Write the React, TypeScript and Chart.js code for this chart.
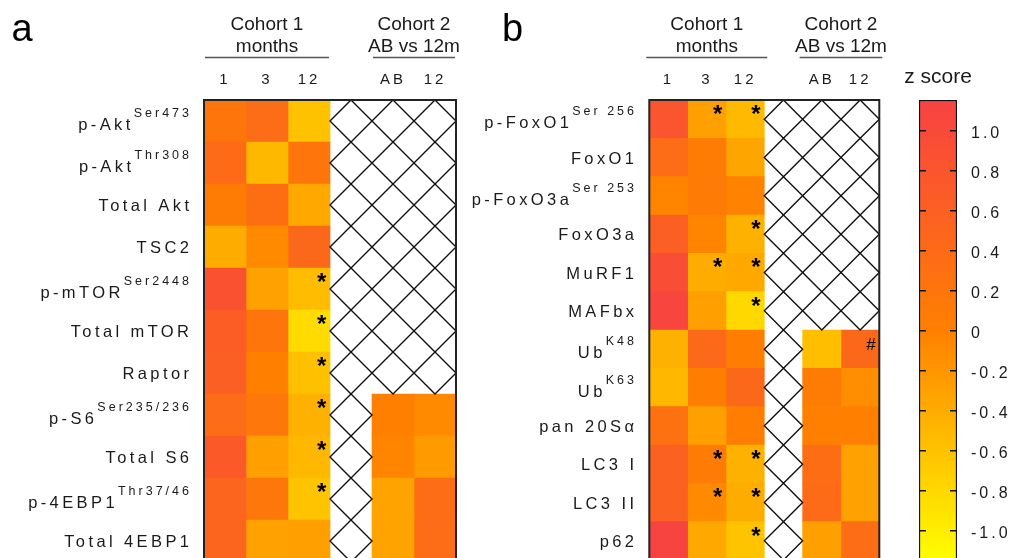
import { useEffect, useRef } from 'react';
import { Chart, registerables } from 'chart.js';

Chart.register(...registerables);

const FONT = '"Liberation Sans", Arial, Helvetica, sans-serif';

// ---------- z-score colour scale ----------
const zStops = [-1.155, 0, 1.155];
const zStopColors = [
  [255, 255, 0],
  [255, 128, 0],
  [248, 66, 66],
];
const zTickValues = [1.0, 0.8, 0.6, 0.4, 0.2, 0, -0.2, -0.4, -0.6, -0.8, -1.0];
const zTickLabels = ['1.0', '0.8', '0.6', '0.4', '0.2', '0', '-0.2', '-0.4', '-0.6', '-0.8', '-1.0'];

// ---------- panel a: Akt / mTOR signalling ----------
const aktRows = ['p-Akt', 'p-Akt', 'Total Akt', 'TSC2', 'p-mTOR', 'Total mTOR', 'Raptor', 'p-S6', 'Total S6', 'p-4EBP1', 'Total 4EBP1'];
const aktSups = ['Ser473', 'Thr308', '', '', 'Ser2448', '', '', 'Ser235/236', '', 'Thr37/46', ''];
const aktC1m1 = [0.2, 0.4, 0.07, -0.4, 0.85, 0.65, 0.62, 0.38, 0.7, 0.5, 0.5];
const aktC1m3 = [0.38, -0.51, 0.33, -0.09, -0.3, 0.2, 0.0, 0.17, -0.29, 0.17, -0.3];
const aktC1m12 = [-0.6, 0.2, -0.36, 0.44, -0.55, -0.83, -0.58, -0.45, -0.5, -0.62, -0.28];
const aktGap = [null, null, null, null, null, null, null, null, null, null, null];
const aktC2AB = [null, null, null, null, null, null, null, 0.0, -0.04, -0.32, -0.32];
const aktC2m12 = [null, null, null, null, null, null, null, -0.09, -0.25, 0.36, 0.38];
const aktSigM12 = [0, 0, 0, 0, 1, 1, 1, 1, 1, 1, 0];

// ---------- panel b: FoxO / proteolysis ----------
const foxRows = ['p-FoxO1', 'FoxO1', 'p-FoxO3a', 'FoxO3a', 'MuRF1', 'MAFbx', 'Ub', 'Ub', 'pan 20Sα', 'LC3 I', 'LC3 II', 'p62'];
const foxSups = ['Ser 256', '', 'Ser 253', '', '', '', 'K48', 'K63', '', '', '', ''];
const foxC1m1 = [0.8, 0.38, -0.05, 0.62, 0.95, 1.08, -0.45, -0.5, 0.28, 0.58, 0.58, 1.12];
const foxC1m3 = [-0.28, 0.07, 0.1, -0.05, -0.4, -0.28, 0.42, 0.03, -0.28, 0.1, -0.09, -0.36];
const foxC1m12 = [-0.53, -0.34, -0.03, -0.45, -0.36, -0.8, 0.03, 0.45, 0.03, -0.45, -0.4, -0.62];
const foxGap = [null, null, null, null, null, null, null, null, null, null, null, null];
const foxC2AB = [null, null, null, null, null, null, -0.57, 0.07, 0.0, 0.35, 0.4, -0.28];
const foxC2m12 = [null, null, null, null, null, null, 0.45, -0.14, 0.0, -0.3, -0.3, 0.36];
const foxSigM3 = [1, 0, 0, 0, 1, 0, 0, 0, 0, 1, 1, 0];
const foxSigM12 = [1, 0, 0, 1, 1, 1, 0, 0, 0, 1, 1, 1];
const foxHashC2m12 = [0, 0, 0, 0, 0, 0, 1, 0, 0, 0, 0, 0];

// ---------- shared column headings ----------
const colLabels = ['1', '3', '12', '', 'AB', '12'];
const cohortHeads = [
  ['Cohort 1', 'months'],
  ['Cohort 2', 'AB vs 12m'],
];
const cohortSpans = [
  [0, 3],
  [4, 6],
];

type Mark = { col: number; flags: number[]; sym: string };
type PanelSpec = {
  letter: string;
  rows: string[];
  sups: string[];
  columns: (number | null)[][];
  marks: Mark[];
};
type PanelLayout = {
  x: number;
  w: number;
  h: number;
  pad: { left: number; right: number; top: number; bottom: number };
  labelRight: number;
  letterX: number;
  ruleExtend: number;
};

const panelA: PanelSpec = {
  letter: 'a',
  rows: aktRows,
  sups: aktSups,
  columns: [aktC1m1, aktC1m3, aktC1m12, aktGap, aktC2AB, aktC2m12],
  marks: [{ col: 2, flags: aktSigM12, sym: '*' }],
};

const panelB: PanelSpec = {
  letter: 'b',
  rows: foxRows,
  sups: foxSups,
  columns: [foxC1m1, foxC1m3, foxC1m12, foxGap, foxC2AB, foxC2m12],
  marks: [
    { col: 1, flags: foxSigM3, sym: '*' },
    { col: 2, flags: foxSigM12, sym: '*' },
    { col: 5, flags: foxHashC2m12, sym: '#' },
  ],
};

const layoutA: PanelLayout = {
  x: 0, w: 470, h: 600,
  pad: { left: 204, right: 14, top: 100, bottom: 38 },
  labelRight: 189, letterX: 11.5, ruleExtend: -1,
};
const layoutB: PanelLayout = {
  x: 460, w: 440, h: 600,
  pad: { left: 189.3, right: 20.7, top: 100, bottom: 40 },
  labelRight: 174, letterX: 42, ruleExtend: 3,
};

function zRgb(v: number): number[] {
  const c = Math.max(zStops[0], Math.min(zStops[zStops.length - 1], v));
  let i = 0;
  while (i < zStops.length - 2 && c > zStops[i + 1]) i++;
  const t = (c - zStops[i]) / (zStops[i + 1] - zStops[i]);
  const a = zStopColors[i];
  const b = zStopColors[i + 1];
  return a.map((ai, k) => Math.round(ai + (b[k] - ai) * t));
}
function zColor(v: number): string {
  const m = zRgb(v);
  return `rgb(${m[0]},${m[1]},${m[2]})`;
}

function drawGlyphCentered(ctx: any, s: string, cx: number, cy: number) {
  ctx.textAlign = 'left';
  ctx.textBaseline = 'alphabetic';
  const m = ctx.measureText(s);
  const x = cx - (m.actualBoundingBoxRight - m.actualBoundingBoxLeft) / 2;
  const y = cy + (m.actualBoundingBoxAscent - m.actualBoundingBoxDescent) / 2;
  ctx.fillText(s, x, y);
}

function drawRowLabel(ctx: any, main: string, sup: string, right: number, cy: number) {
  const mainLs = 3.4;
  const supLs = 3;
  ctx.textAlign = 'left';
  ctx.textBaseline = 'alphabetic';
  ctx.font = `16.5px ${FONT}`;
  ctx.letterSpacing = `${mainLs}px`;
  const mw = ctx.measureText(main).width;
  let sw = 0;
  if (sup) {
    ctx.font = `12.5px ${FONT}`;
    ctx.letterSpacing = `${supLs}px`;
    sw = ctx.measureText(sup).width;
  }
  const visible = mw + sw - (sup ? supLs : mainLs);
  const start = right - visible;
  ctx.font = `16.5px ${FONT}`;
  ctx.letterSpacing = `${mainLs}px`;
  ctx.fillText(main, start, sup ? cy + 9 : cy + 6);
  if (sup) {
    ctx.font = `12.5px ${FONT}`;
    ctx.letterSpacing = `${supLs}px`;
    ctx.fillText(sup, start + mw, cy - 4);
  }
}

function hatchSpans(columns: (number | null)[][], nRows: number) {
  const spans: (number[] | null)[] = [];
  for (let r = 0; r < nRows; r++) {
    const missing = columns.map((col, c) => (col[r] == null ? c : -1)).filter((c) => c >= 0);
    spans.push(missing.length ? [Math.min(...missing), Math.max(...missing) + 1] : null);
  }
  return spans;
}

function makePanelConfig(spec: PanelSpec, lay: PanelLayout): any {
  const nRows = spec.rows.length;
  const nCols = spec.columns.length;
  const datasets: any[] = spec.columns.map((vals, c) => ({
    label: colLabels[c] || 'gap',
    data: vals.map((v) => (v == null ? null : [c, c + 1])),
    backgroundColor: vals.map((v) => (v == null ? 'rgba(0,0,0,0)' : zColor(v))),
    borderWidth: 0,
    grouped: false,
    barPercentage: 1,
    categoryPercentage: 1,
  }));
  const hatchIndex = datasets.length;
  datasets.push({
    label: 'not measured',
    data: hatchSpans(spec.columns, nRows),
    backgroundColor: '#ffffff',
    borderWidth: 0,
    grouped: false,
    barPercentage: 1,
    categoryPercentage: 1,
  });

  const decor = {
    id: 'panelDecor',
    afterDraw(chart: any) {
      const ctx = chart.ctx;
      const area = chart.chartArea;
      const xs = chart.scales.x;
      const ys = chart.scales.y;
      ctx.save();

      // diamond hatching for cells without data
      ctx.strokeStyle = '#111';
      ctx.lineWidth = 1.4;
      const hMeta = chart.getDatasetMeta(hatchIndex);
      const hData = chart.data.datasets[hatchIndex].data;
      hMeta.data.forEach((el: any, r: number) => {
        const span = hData[r];
        if (!span) return;
        const p = el.getProps(['y', 'height'], true);
        const top = p.y - p.height / 2;
        const bot = p.y + p.height / 2;
        for (let c = span[0]; c < span[1]; c++) {
          const l = xs.getPixelForValue(c);
          const rr = xs.getPixelForValue(c + 1);
          const mx = (l + rr) / 2;
          ctx.beginPath();
          ctx.moveTo(mx, top);
          ctx.lineTo(rr, p.y);
          ctx.lineTo(mx, bot);
          ctx.lineTo(l, p.y);
          ctx.closePath();
          ctx.stroke();
        }
      });

      // outer frame
      ctx.strokeStyle = '#222';
      ctx.lineWidth = 2;
      ctx.strokeRect(area.left, area.top, area.right - area.left, area.bottom - area.top);

      // significance marks
      ctx.fillStyle = '#000';
      ctx.letterSpacing = '0px';
      spec.marks.forEach((mk) => {
        const meta = chart.getDatasetMeta(mk.col);
        mk.flags.forEach((f, r) => {
          if (!f) return;
          const el = meta.data[r];
          if (!el) return;
          const p = el.getProps(['x', 'base', 'y', 'height'], true);
          const right = Math.max(p.x, p.base);
          const top = p.y - p.height / 2;
          if (mk.sym === '*') {
            ctx.font = `bold 24px ${FONT}`;
            drawGlyphCentered(ctx, '*', right - 8, top + 9.5);
          } else {
            ctx.font = `17px ${FONT}`;
            drawGlyphCentered(ctx, mk.sym, right - 8, top + 13.5);
          }
        });
      });

      // row labels
      ctx.fillStyle = '#1a1a1a';
      spec.rows.forEach((name, r) => {
        drawRowLabel(ctx, name, spec.sups[r], lay.labelRight, ys.getPixelForValue(r));
      });

      // column labels
      ctx.font = `15px ${FONT}`;
      ctx.letterSpacing = '3px';
      ctx.textAlign = 'center';
      ctx.textBaseline = 'alphabetic';
      for (let c = 0; c < nCols; c++) {
        if (!colLabels[c]) continue;
        ctx.fillText(colLabels[c], xs.getPixelForValue(c + 0.5), 83.5);
      }

      // cohort headings with rules
      ctx.font = `19px ${FONT}`;
      ctx.letterSpacing = '0px';
      cohortHeads.forEach((lines, i) => {
        const l = xs.getPixelForValue(cohortSpans[i][0]);
        const rr = xs.getPixelForValue(cohortSpans[i][1]);
        const cx = (l + rr) / 2;
        ctx.fillText(lines[0], cx, 30);
        ctx.fillText(lines[1], cx, 52);
        ctx.strokeStyle = '#555';
        ctx.lineWidth = 1.3;
        ctx.beginPath();
        ctx.moveTo(l - lay.ruleExtend, 57.5);
        ctx.lineTo(rr + lay.ruleExtend, 57.5);
        ctx.stroke();
      });

      // panel letter
      ctx.fillStyle = '#000';
      ctx.font = `38px ${FONT}`;
      ctx.textAlign = 'left';
      ctx.fillText(spec.letter, lay.letterX, 40.5);

      ctx.restore();
    },
  };

  return {
    type: 'bar',
    data: {
      labels: spec.rows.map((r, i) => (spec.sups[i] ? `${r} ${spec.sups[i]}` : r)),
      datasets,
    },
    options: {
      indexAxis: 'y',
      responsive: false,
      animation: false,
      events: [],
      layout: { padding: lay.pad },
      plugins: { legend: { display: false }, tooltip: { enabled: false }, title: { display: false } },
      scales: {
        x: { type: 'linear', min: 0, max: nCols, display: false },
        y: { type: 'category', display: false, offset: true },
      },
    },
    plugins: [decor],
  };
}

function HeatPanel({ spec, lay }: { spec: PanelSpec; lay: PanelLayout }) {
  const ref = useRef<HTMLCanvasElement>(null);
  useEffect(() => {
    const chart = new Chart(ref.current as HTMLCanvasElement, makePanelConfig(spec, lay));
    return () => chart.destroy();
  }, [spec, lay]);
  return (
    <canvas
      ref={ref}
      width={lay.w}
      height={lay.h}
      style={{ position: 'absolute', left: lay.x, top: 0, width: lay.w, height: lay.h }}
    />
  );
}

function ZScoreBar() {
  const ref = useRef<HTMLCanvasElement>(null);
  useEffect(() => {
    const zMin = zStops[0];
    const zMax = zStops[zStops.length - 1];
    const chart = new Chart(ref.current as HTMLCanvasElement, {
      type: 'bar',
      data: {
        labels: ['z score'],
        datasets: [
          {
            data: [[zMin, zMax]],
            backgroundColor: (c: any) => {
              const ch = c.chart;
              const ys = ch.scales.y;
              if (!ys || !ch.chartArea) return zColor(0);
              const g = ch.ctx.createLinearGradient(0, ys.getPixelForValue(zMin), 0, ys.getPixelForValue(zMax));
              const n = 24;
              for (let i = 0; i <= n; i++) {
                g.addColorStop(i / n, zColor(zMin + ((zMax - zMin) * i) / n));
              }
              return g;
            },
            borderColor: '#111',
            borderWidth: 1.5,
            borderSkipped: false,
            barPercentage: 1,
            categoryPercentage: 1,
          } as any,
        ],
      },
      options: {
        responsive: false,
        animation: false,
        events: [],
        layout: { padding: { left: 19, right: 0, top: 100, bottom: 38 } },
        plugins: { legend: { display: false }, tooltip: { enabled: false } },
        scales: {
          x: { display: false },
          y: {
            position: 'right',
            min: zMin,
            max: zMax,
            afterFit: (s: any) => {
              s.width = 58;
            },
            afterBuildTicks: (s: any) => {
              s.ticks = zTickValues.map((v) => ({ value: v }));
            },
            grid: { drawTicks: false, color: '#111', lineWidth: 1.5, z: 1 },
            border: { display: false, dash: [7, 24] },
            ticks: {
              padding: 14,
              labelOffset: 3,
              color: '#1a1a1a',
              font: { family: FONT, size: 16 },
              callback: (_v: any, i: number) => zTickLabels[i],
            },
          },
        },
      } as any,
      plugins: [
        {
          id: 'zTitle',
          beforeDraw(chart: any) {
            chart.ctx.letterSpacing = '3px';
          },
          afterDraw(chart: any) {
            const ctx = chart.ctx;
            ctx.save();
            ctx.letterSpacing = '0px';
            ctx.font = `21px ${FONT}`;
            ctx.fillStyle = '#1a1a1a';
            ctx.textAlign = 'center';
            ctx.textBaseline = 'alphabetic';
            ctx.fillText('z score', 38, 83.3);
            ctx.restore();
          },
        },
      ],
    });
    return () => chart.destroy();
  }, []);
  return (
    <canvas
      ref={ref}
      width={115}
      height={600}
      style={{ position: 'absolute', left: 900, top: 0, width: 115, height: 600 }}
    />
  );
}

export default function App() {
  return (
    <div
      style={{
        position: 'fixed',
        left: 0,
        top: 0,
        width: 1015,
        height: 558,
        overflow: 'hidden',
        background: '#fff',
      }}
    >
      <HeatPanel spec={panelA} lay={layoutA} />
      <HeatPanel spec={panelB} lay={layoutB} />
      <ZScoreBar />
    </div>
  );
}
